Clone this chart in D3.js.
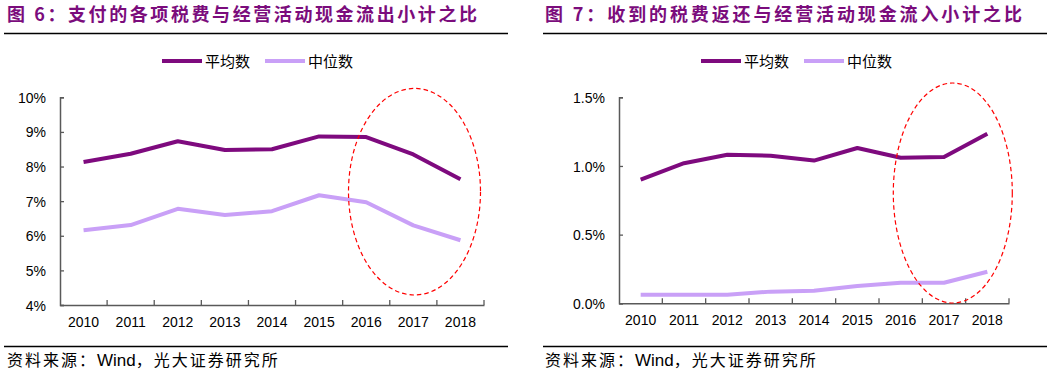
<!DOCTYPE html>
<html><head><meta charset="utf-8">
<script src="https://cdn.jsdelivr.net/npm/d3@7"></script>
<style>body{margin:0;background:#fff}svg{display:block}</style>
</head><body>
<svg id="c" width="1053" height="379"></svg>
<script>
const years = ["2010","2011","2012","2013","2014","2015","2016","2017","2018"];
const leftAvg = [8.13,8.37,8.73,8.48,8.50,8.87,8.85,8.35,7.63];
const leftMed = [6.16,6.31,6.78,6.60,6.71,7.17,6.97,6.30,5.87];
const rightAvg = [0.90,1.02,1.082,1.075,1.039,1.131,1.06,1.065,1.235];
const rightMed = [0.063,0.063,0.063,0.085,0.092,0.126,0.15,0.15,0.23];
const leftTicks = [4,5,6,7,8,9,10];
const rightTicks = [0,0.5,1.0,1.5];
const seriesNames = ["平均数","中位数"];
const titles = ["图 6：支付的各项税费与经营活动现金流出小计之比","图 7：收到的税费返还与经营活动现金流入小计之比"];
const sourceParts = ["资料来源：","Wind","，光大证券研究所"];

const colAvg = "#7E0A7E", colMed = "#C9A0F7", axisCol = "#595959";
const svg = d3.select("#c");
const cjk = "'Noto Sans CJK SC','Noto Sans',sans-serif";
const lat = "'Liberation Sans',Arial,sans-serif";

function panel(o){
  const g = svg.append("g");
  g.append("text").attr("x",o.tx).attr("y",21).attr("fill","#7B0C7C")
    .attr("font-family",cjk).attr("font-weight","bold").attr("font-size",18)
    .attr("textLength",o.tw).attr("lengthAdjust","spacing").text(o.title);
  g.append("line").attr("x1",o.ux1).attr("x2",o.ux2).attr("y1",33.5).attr("y2",33.5)
    .attr("stroke","#000").attr("stroke-width",1.3);
  const lg = [[o.lx,colAvg,seriesNames[0]],[o.lx+103,colMed,seriesNames[1]]];
  lg.forEach(([x,c,t])=>{
    g.append("line").attr("x1",x).attr("x2",x+40).attr("y1",61).attr("y2",61)
      .attr("stroke",c).attr("stroke-width",4);
    g.append("text").attr("x",x+43).attr("y",66.5).attr("font-family",cjk)
      .attr("font-size",15).attr("fill","#000").text(t);
  });
  const x = d3.scaleBand().domain(years).range([o.x0,o.x1]);
  const y = d3.scaleLinear().domain(o.ydom).range([o.yb,o.yt]);
  const ya = d3.axisLeft(y).tickValues(o.ticks).tickSize(-4).tickPadding(14).tickFormat(o.fmt);
  const yg = g.append("g").attr("transform",`translate(${o.x0},0)`).call(ya);
  const xa = d3.axisBottom(x).tickSize(0).tickPadding(12);
  const xg = g.append("g").attr("transform",`translate(0,${o.yb})`).call(xa);
  const bounds = years.map(d=>x(d)+x.bandwidth());
  xg.selectAll("line.b").data(bounds).enter().append("line").attr("class","b")
    .attr("x1",d=>d).attr("x2",d=>d).attr("y1",0).attr("y2",-5).attr("stroke",axisCol).attr("stroke-width",1.3);
  [yg,xg].forEach(a=>{
    a.select(".domain").attr("stroke",axisCol).attr("stroke-width",1.5);
    a.selectAll(".tick line").attr("stroke",axisCol).attr("stroke-width",1.3);
    a.selectAll("text").attr("font-family",lat).attr("font-size",14).attr("fill","#000");
  });
  yg.selectAll(".tick text").attr("dy","0.36em");
  const line = d3.line().x((d,i)=>x(years[i])+x.bandwidth()/2).y(d=>y(d));
  [[o.med,colMed],[o.avg,colAvg]].forEach(([d,c])=>{
    g.append("path").attr("d",line(d)).attr("fill","none").attr("stroke",c)
      .attr("stroke-width",4).attr("stroke-linejoin","round");
  });
  g.append("ellipse").attr("cx",o.ex).attr("cy",o.ey).attr("rx",o.erx).attr("ry",o.ery)
    .attr("fill","none").attr("stroke","#FF0000").attr("stroke-width",1.2).attr("stroke-dasharray","4.5,3");
  g.append("line").attr("x1",o.ux1).attr("x2",o.ux2).attr("y1",346.5).attr("y2",346.5)
    .attr("stroke","#000").attr("stroke-width",1.3);
  const ft = g.append("text").attr("x",o.tx).attr("y",366).attr("font-family",cjk).attr("font-size",16).attr("fill","#000");
  ft.append("tspan").attr("letter-spacing",2).text(sourceParts[0]);
  ft.append("tspan").attr("font-family",lat).attr("font-size",17).text(sourceParts[1]);
  ft.append("tspan").attr("letter-spacing",2).text(sourceParts[2]);
}

panel({title:titles[0],tx:7,tw:470,ux1:4,ux2:508,lx:162,x0:60,x1:484,yb:305,yt:97.3,
  ydom:[4,10],ticks:leftTicks,fmt:d=>d+"%",avg:leftAvg,med:leftMed,ex:414.5,ey:191.7,erx:66,ery:103.3});
panel({title:titles[1],tx:545,tw:477,ux1:543,ux2:1047,lx:701,x0:619,x1:1009,yb:303.3,yt:97.3,
  ydom:[0,1.5],ticks:rightTicks,fmt:d=>d.toFixed(1)+"%",avg:rightAvg,med:rightMed,ex:952.8,ey:193,erx:59.5,ery:110});
</script>
</body></html>
